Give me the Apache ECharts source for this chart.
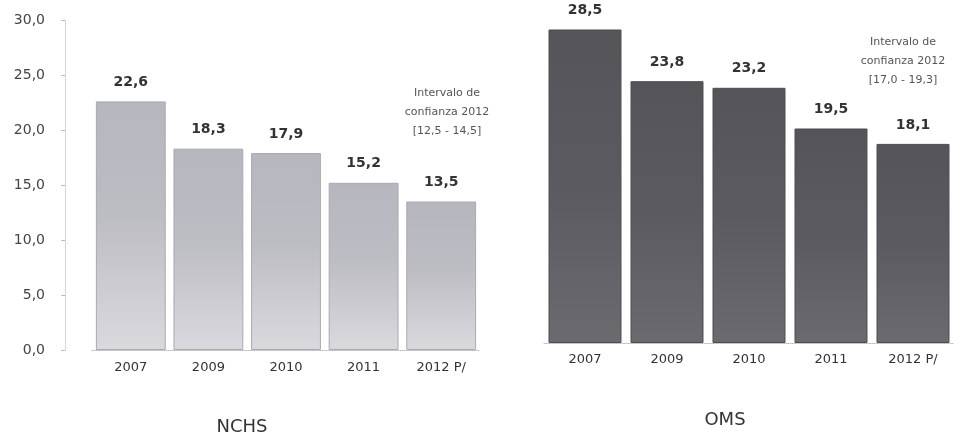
<!DOCTYPE html>
<html>
<head>
<meta charset="utf-8">
<script src="https://cdn.jsdelivr.net/npm/echarts@6/dist/echarts.min.js"></script>
<style>html,body{margin:0;padding:0;background:#fff}#c{width:968px;height:434px}</style>
</head>
<body>
<div id="c"></div>
<script>
const categories = ['2007', '2009', '2010', '2011', '2012 P/'];
const nchsValues = [22.6, 18.3, 17.9, 15.2, 13.5];
const omsValues = [28.5, 23.8, 23.2, 19.5, 18.1];
const yTicks = [0, 5, 10, 15, 20, 25, 30];
const panelTitles = ['NCHS', 'OMS'];
const notes = [
  ['Intervalo de', 'confianza 2012', '[12,5 - 14,5]'],
  ['Intervalo de', 'confianza 2012', '[17,0 - 19,3]']
];

const fmt = v => Number(v).toFixed(1).replace('.', ',');
const font = 'DejaVu Sans, Verdana, sans-serif';

const chart = echarts.init(document.getElementById('c'));
const lightGrad = new echarts.graphic.LinearGradient(0, 0, 0, 1, [
  {offset: 0, color: '#b6b6be'}, {offset: 0.45, color: '#bcbcc3'}, {offset: 1, color: '#d9d9de'}
]);
const darkGrad = new echarts.graphic.LinearGradient(0, 0, 0, 1, [
  {offset: 0, color: '#545459'}, {offset: 0.5, color: '#5a5a60'}, {offset: 1, color: '#6a6a6f'}
]);

chart.setOption({
  animation: false,
  backgroundColor: '#ffffff',
  title: [
    {text: panelTitles[0], left: 237, top: 413, textAlign: 'center',
     textStyle: {fontFamily: font, fontSize: 18, fontWeight: 'normal', color: '#333'}},
    {text: panelTitles[1], left: 720, top: 406, textAlign: 'center',
     textStyle: {fontFamily: font, fontSize: 18, fontWeight: 'normal', color: '#333'}}
  ],
  grid: [
    {left: 92, width: 388, top: 20, height: 330},
    {left: 544, width: 410, top: 13, height: 330}
  ],
  xAxis: [
    {type: 'category', gridIndex: 0, data: categories,
     axisLine: {lineStyle: {color: '#bbb', type: 'dotted'}}, axisTick: {show: false},
     axisLabel: {margin: 11, fontFamily: font, fontSize: 13, color: '#333'}},
    {type: 'category', gridIndex: 1, data: categories,
     axisLine: {lineStyle: {color: '#bbb', type: 'dotted'}}, axisTick: {show: false},
     axisLabel: {margin: 10, fontFamily: font, fontSize: 13, color: '#333'}}
  ],
  yAxis: [
    {type: 'value', gridIndex: 0, min: yTicks[0], max: yTicks[yTicks.length - 1], interval: 5,
     offset: 27,
     axisLine: {show: true, lineStyle: {color: '#ccc', type: 'dotted'}},
     axisTick: {show: true, length: 4, lineStyle: {color: '#bbb'}},
     splitLine: {show: false},
     axisLabel: {margin: 20, fontFamily: font, fontSize: 14, color: '#444', formatter: v => fmt(v)}},
    {type: 'value', gridIndex: 1, min: yTicks[0], max: yTicks[yTicks.length - 1], interval: 5,
     show: false, splitLine: {show: false}}
  ],
  series: [
    {type: 'bar', xAxisIndex: 0, yAxisIndex: 0, data: nchsValues, barWidth: '90%',
     itemStyle: {color: lightGrad, borderColor: '#a9a9b0', borderWidth: 1},
     label: {show: true, position: 'top', distance: 12, formatter: p => fmt(p.value),
             fontFamily: font, fontSize: 14, fontWeight: 'bold', color: '#333'}},
    {type: 'bar', xAxisIndex: 1, yAxisIndex: 1, data: omsValues, barWidth: '89%',
     itemStyle: {color: darkGrad, borderColor: '#4c4c50', borderWidth: 1},
     label: {show: true, position: 'top', distance: 12, formatter: p => fmt(p.value),
             fontFamily: font, fontSize: 14, fontWeight: 'bold', color: '#333'}}
  ],
  graphic: [
    {type: 'text', x: 447, y: 84, style: {text: notes[0].join('\n'), fontFamily: font, fontSize: 11,
      lineHeight: 19, fill: '#555', align: 'center', verticalAlign: 'top'}},
    {type: 'text', x: 903, y: 33, style: {text: notes[1].join('\n'), fontFamily: font, fontSize: 11,
      lineHeight: 19, fill: '#555', align: 'center', verticalAlign: 'top'}}
  ]
});
</script>
</body>
</html>
